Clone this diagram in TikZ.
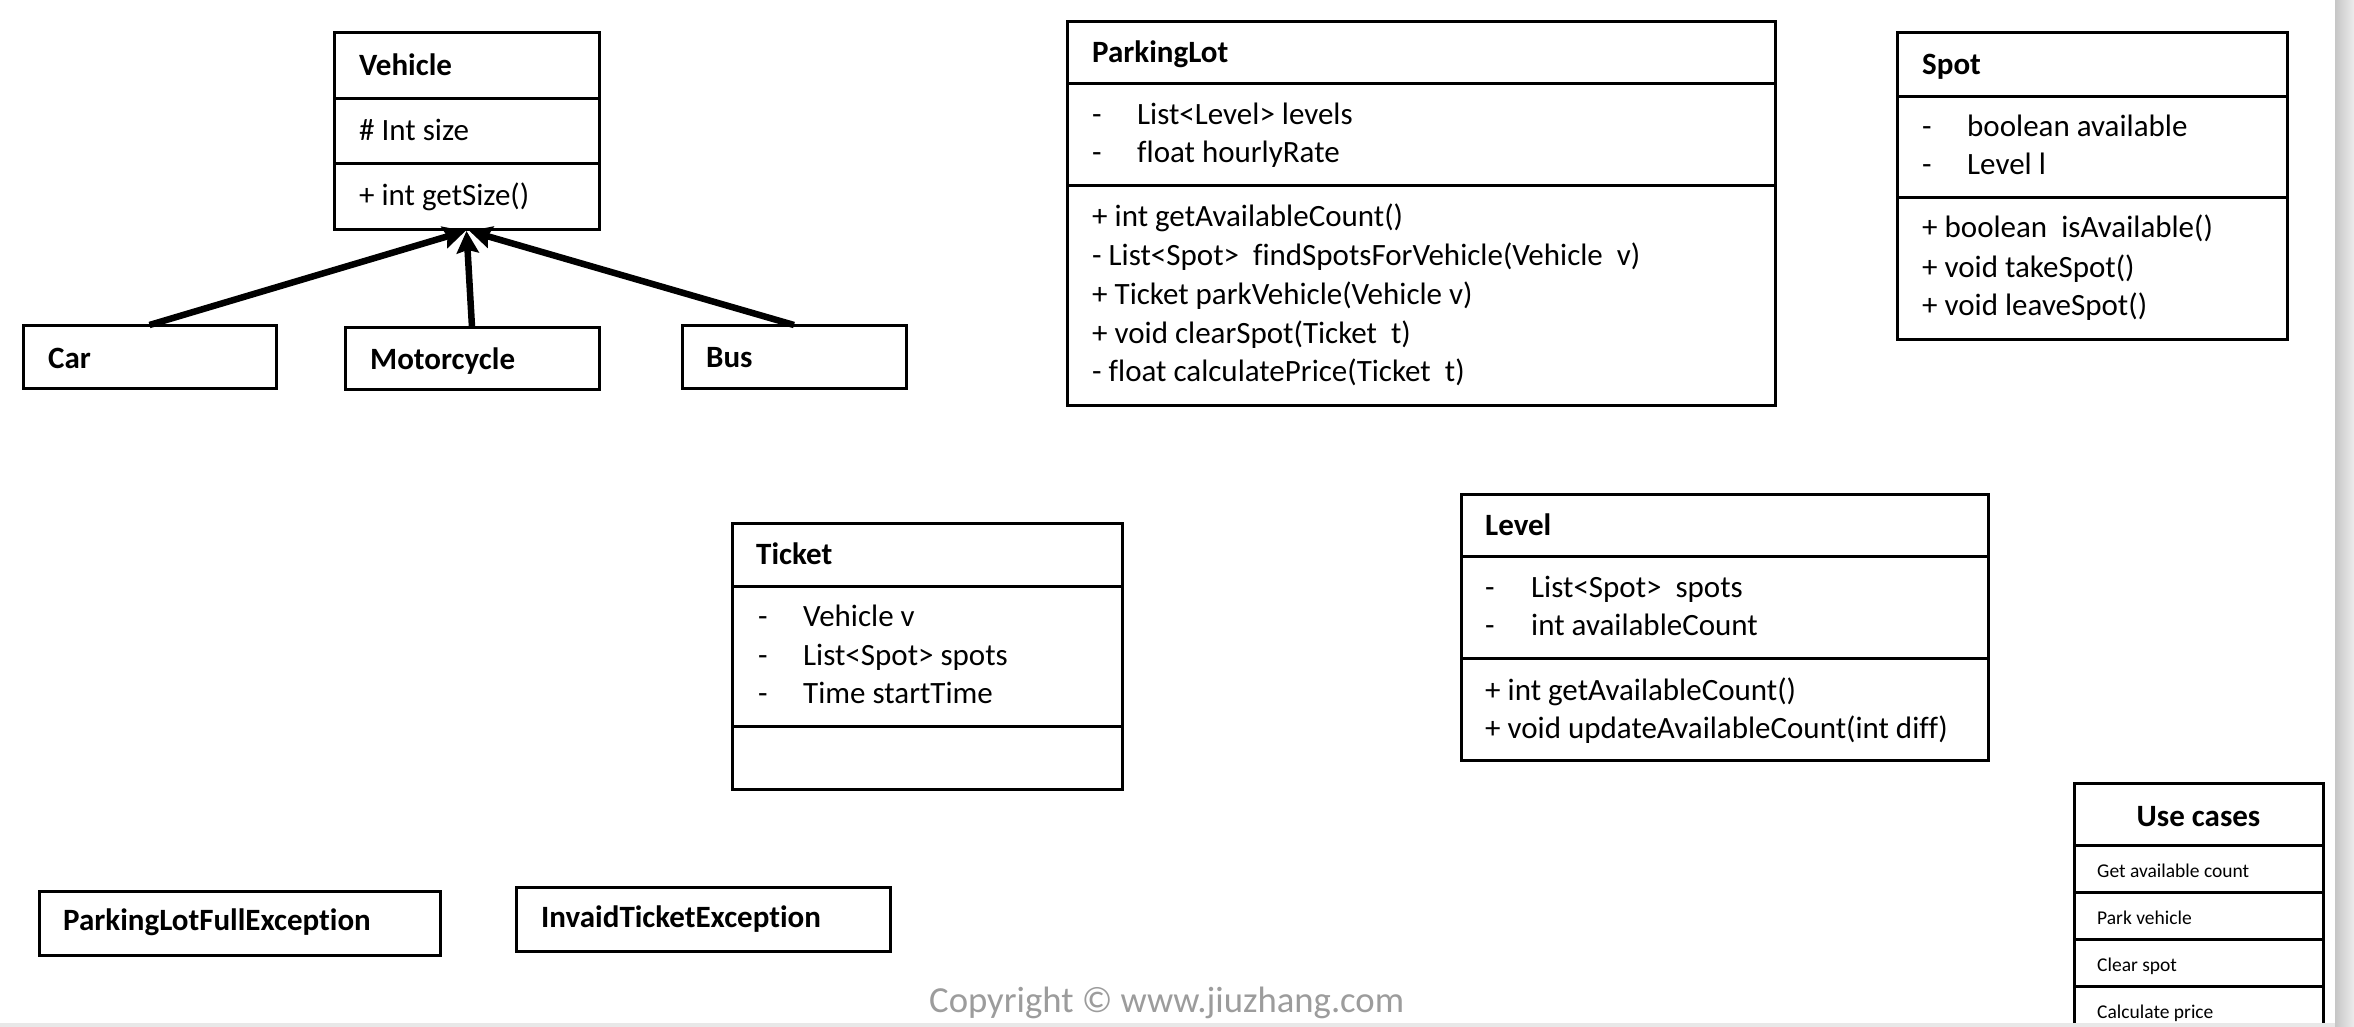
\documentclass[tikz,border=0pt]{standalone}
\usepackage{fontspec}
\setmainfont{Carlito}[Ligatures=NoCommon]
\usetikzlibrary{arrows.meta}
\definecolor{copygrey}{HTML}{9C9C9C}
\begin{document}
\begin{tikzpicture}[x=1pt,y=-1pt,
  box/.style={draw, line width=3pt, inner sep=0pt, outer sep=0pt, anchor=north west},
  div/.style={line width=3pt},
  txt/.style={anchor=base west, inner sep=0pt, font=\fontsize{31}{38}\selectfont},
  ttl/.style={anchor=base west, inner sep=0pt, font=\bfseries\fontsize{31}{38}\selectfont},
  small/.style={anchor=base west, inner sep=0pt, font=\fontsize{19.5}{24}\selectfont},
  inh/.style={line width=6.5pt, -{Stealth[length=22pt,width=22pt,inset=3pt]}}]
\useasboundingbox (0,0) rectangle (2354,1027);
\fill[white] (0,0) rectangle (2354,1027);

% ---------- Vehicle ----------
\node[box, minimum width=265pt, minimum height=197pt] (vehicle) at (334,33) {};
\draw[div] (vehicle.west |- 0,99) -- (vehicle.east |- 0,99);
\draw[div] (vehicle.west |- 0,164) -- (vehicle.east |- 0,164);
\node[ttl] (vehT) at (359,75.5) {Vehicle};
\node[txt] (vehA) at (359,141) {\# Int size};
\node[txt] (vehM) at (359,206) {+ int getSize()};

% ---------- subclasses ----------
\node[box, minimum width=253pt, minimum height=63pt] (car) at (23,325) {};
\node[ttl] (carT) at (48,368) {Car};
\node[box, minimum width=254pt, minimum height=62pt] (moto) at (345,327) {};
\node[ttl] (motoT) at (370,369) {Motorcycle};
\node[box, minimum width=224pt, minimum height=63pt] (bus) at (682,325) {};
\node[ttl] (busT) at (706,367) {Bus};

\draw[inh] (car.north) -- ([xshift=-1pt,yshift=-1pt]vehicle.south);
\draw[inh] (moto.north) -- ([yshift=-1pt]vehicle.south);
\draw[inh] (bus.north) -- ([xshift=3pt,yshift=-1pt]vehicle.south);

% ---------- ParkingLot ----------
\node[box, minimum width=708pt, minimum height=383pt] (plot) at (1067,22) {};
\draw[div] (plot.west |- 0,84) -- (plot.east |- 0,84);
\draw[div] (plot.west |- 0,186) -- (plot.east |- 0,186);
\node[ttl] (plotT) at (1092,63) {ParkingLot};
\node[txt] (plotD1) at (1092,125) {-};
\node[txt] (plotA1) at (1137,125) {List<Level> levels};
\node[txt] (plotD2) at (1092,163) {-};
\node[txt] (plotA2) at (1137,163) {float hourlyRate};
\node[txt] (plotM1) at (1092,227) {+ int getAvailableCount()};
\node[txt] (plotM2) at (1092,265.5) {- List<Spot>\ \ findSpotsForVehicle(Vehicle\ \ v)};
\node[txt] (plotM3) at (1092,304) {+ Ticket parkVehicle(Vehicle v)};
\node[txt] (plotM4) at (1092,343) {+ void clearSpot(Ticket\ \ t)};
\node[txt] (plotM5) at (1092,381.5) {- float calculatePrice(Ticket\ \ t)};

% ---------- Spot ----------
\node[box, minimum width=390pt, minimum height=306pt] (spot) at (1897,33) {};
\draw[div] (spot.west |- 0,97) -- (spot.east |- 0,97);
\draw[div] (spot.west |- 0,198) -- (spot.east |- 0,198);
\node[ttl] (spotT) at (1922,75) {Spot};
\node[txt] (spotD1) at (1922,137) {-};
\node[txt] (spotA1) at (1967,137) {boolean available};
\node[txt] (spotD2) at (1922,175) {-};
\node[txt] (spotA2) at (1967,175) {Level l};
\node[txt] (spotM1) at (1922,238) {+ boolean\ \ isAvailable()};
\node[txt] (spotM2) at (1922,277) {+ void takeSpot()};
\node[txt] (spotM3) at (1922,315) {+ void leaveSpot()};

% ---------- Ticket ----------
\node[box, minimum width=390pt, minimum height=266pt] (ticket) at (732,523) {};
\draw[div] (ticket.west |- 0,586) -- (ticket.east |- 0,586);
\draw[div] (ticket.west |- 0,726) -- (ticket.east |- 0,726);
\node[ttl] (ticketT) at (756,564) {Ticket};
\node[txt] (ticketD1) at (758,626) {-};
\node[txt] (ticketA1) at (803,626) {Vehicle v};
\node[txt] (ticketD2) at (758,665) {-};
\node[txt] (ticketA2) at (803,665) {List<Spot> spots};
\node[txt] (ticketD3) at (758,703) {-};
\node[txt] (ticketA3) at (803,703) {Time startTime};

% ---------- Level ----------
\node[box, minimum width=527pt, minimum height=266pt] (level) at (1461,494) {};
\draw[div] (level.west |- 0,556) -- (level.east |- 0,556);
\draw[div] (level.west |- 0,658) -- (level.east |- 0,658);
\node[ttl] (levelT) at (1485,535) {Level};
\node[txt] (levelD1) at (1485,597) {-};
\node[txt] (levelA1) at (1531,597) {List<Spot>\ \ spots};
\node[txt] (levelD2) at (1485,635) {-};
\node[txt] (levelA2) at (1531,635) {int availableCount};
\node[txt] (levelM1) at (1485,700) {+ int getAvailableCount()};
\node[txt] (levelM2) at (1485,738) {+ void updateAvailableCount(int diff)};

% ---------- Use cases ----------
\node[box, minimum width=249pt, minimum height=270pt] (uc) at (2074,783) {};
\draw[div] (uc.west |- 0,845) -- (uc.east |- 0,845);
\draw[div] (uc.west |- 0,892) -- (uc.east |- 0,892);
\draw[div] (uc.west |- 0,939) -- (uc.east |- 0,939);
\draw[div] (uc.west |- 0,986) -- (uc.east |- 0,986);
\node[anchor=base, inner sep=0pt, font=\bfseries\fontsize{31}{38}\selectfont] (ucT) at (2198.5,826) {Use cases};
\node[small] (uc1) at (2097,877) {Get available count};
\node[small] (uc2) at (2097,924) {Park vehicle};
\node[small] (uc3) at (2097,971) {Clear spot};
\node[small] (uc4) at (2097,1018) {Calculate price};

% ---------- Exceptions ----------
\node[box, minimum width=401pt, minimum height=64pt] (plfe) at (39,891) {};
\node[ttl] (plfeT) at (63,930) {ParkingLotFullException};
\node[box, minimum width=374pt, minimum height=64pt] (ite) at (516,887) {};
\node[ttl] (iteT) at (541,927) {InvaidTicketException};

% ---------- copyright ----------
\node[anchor=base west, inner sep=0pt, text=copygrey, font=\fontsize{36.7}{44}\selectfont] (copy) at (929,1012) {Copyright © www.jiuzhang.com};

% ---------- page edge strips ----------
\shade[left color=gray!45, right color=gray!15] (2335,0) rectangle (2354,1027);
\fill[gray!18] (0,1023) rectangle (2335,1027);
\end{tikzpicture}
\end{document}
